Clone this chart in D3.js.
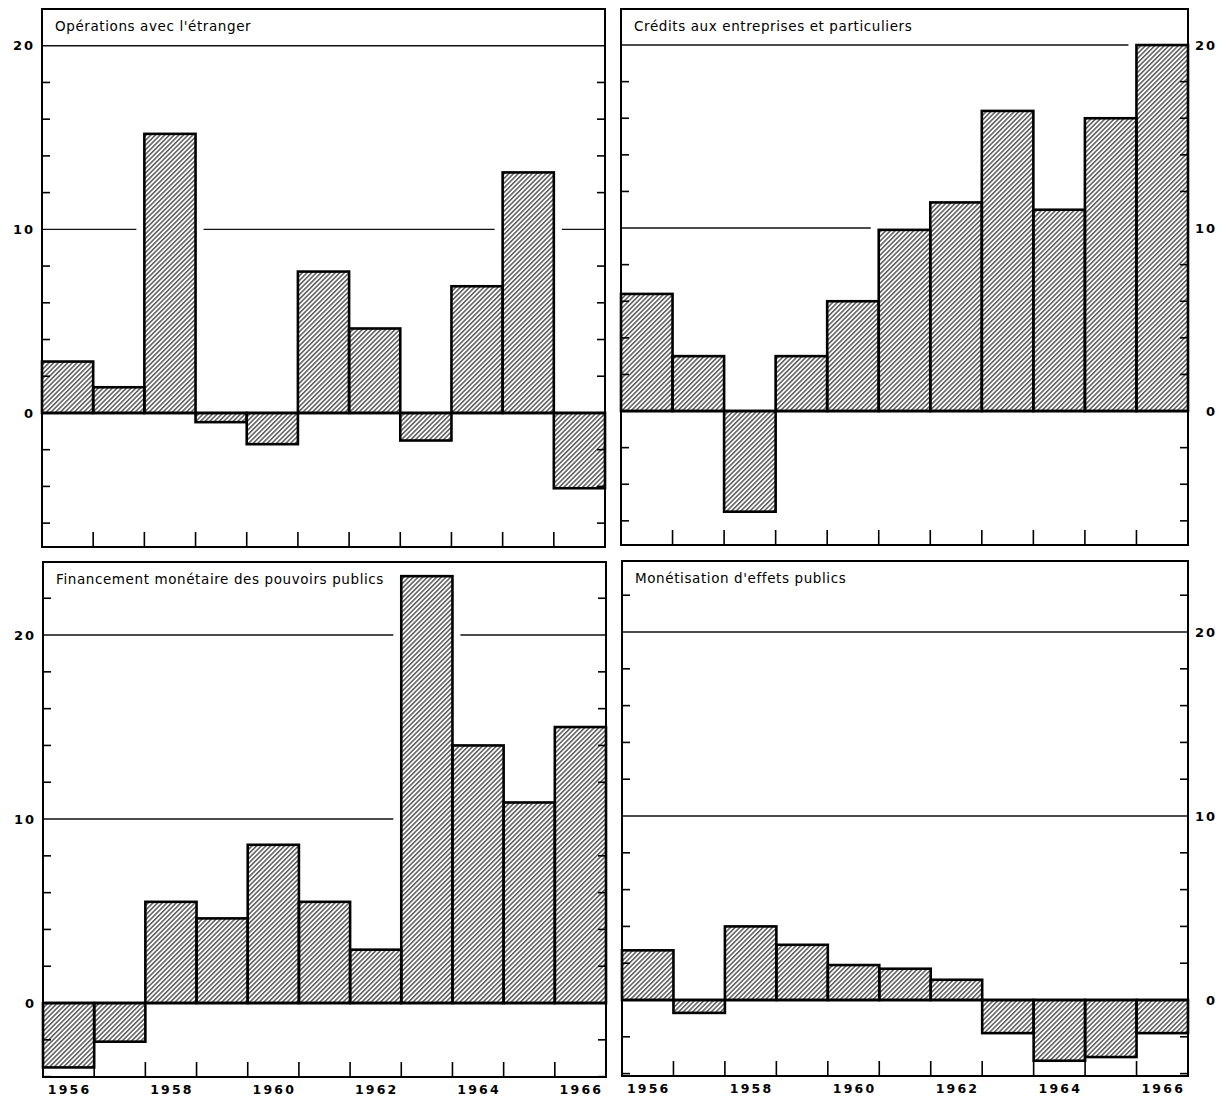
<!DOCTYPE html>
<html>
<head>
<meta charset="utf-8">
<script src="https://cdn.jsdelivr.net/npm/d3@7"></script>
<style>
  html, body { margin: 0; padding: 0; background: #fff; }
  svg { display: block; }
</style>
</head>
<body>
<svg id="chart" width="1230" height="1098"></svg>
<script>
// ---------- data ----------
const years = [1956, 1957, 1958, 1959, 1960, 1961, 1962, 1963, 1964, 1965, 1966];
const yearLabels = ["1956", "1958", "1960", "1962", "1964", "1966"];
const operations   = [2.8, 1.4, 15.2, -0.5, -1.7, 7.7, 4.6, -1.5, 6.9, 13.1, -4.1];
const credits      = [6.4, 3.0, -5.5, 3.0, 6.0, 9.9, 11.4, 16.4, 11.0, 16.0, 20.0];
const monetaire    = [-3.5, -2.1, 5.5, 4.6, 8.6, 5.5, 2.9, 23.2, 14.0, 10.9, 15.0];
const monetisation = [2.7, -0.7, 4.0, 3.0, 1.9, 1.7, 1.1, -1.8, -3.3, -3.1, -1.8];
const titles = [
  "Opérations avec l'étranger",
  "Crédits aux entreprises et particuliers",
  "Financement monétaire des pouvoirs publics",
  "Monétisation d'effets publics"
];
const gridValues = [10, 20];
const tickLabels = ["0", "10", "20"];

// ---------- layout ----------
const panels = [
  { title: titles[0], values: operations,   x0: 42,  x1: 605,  y0: 9,   y1: 547,  domain: [-7.3, 22.0],   side: "left",  showYears: false },
  { title: titles[1], values: credits,      x0: 621, x1: 1188, y0: 9,   y1: 545,  domain: [-7.32, 21.97], side: "right", showYears: false },
  { title: titles[2], values: monetaire,    x0: 43,  x1: 606,  y0: 562, y1: 1077, domain: [-4.02, 23.97], side: "left",  showYears: true },
  { title: titles[3], values: monetisation, x0: 622, x1: 1188, y0: 561, y1: 1076, domain: [-4.13, 23.86], side: "right", showYears: true }
];

const svg = d3.select("#chart");
const defs = svg.append("defs");
defs.append("pattern")
  .attr("id", "hatch")
  .attr("patternUnits", "userSpaceOnUse")
  .attr("width", 3.3).attr("height", 3.3)
  .attr("patternTransform", "rotate(45)")
  .append("line")
  .attr("x1", 0.8).attr("y1", 0).attr("x2", 0.8).attr("y2", 3.3)
  .attr("stroke", "#111").attr("stroke-width", 1.05);

const numFont = "'DejaVu Sans', sans-serif";
const titleFont = "'DejaVu Sans', sans-serif";

panels.forEach(p => {
  const g = svg.append("g");
  const x = d3.scaleBand().domain(years).range([p.x0, p.x1]).padding(0);
  const y = d3.scaleLinear().domain(p.domain).range([p.y1, p.y0]);

  // grid lines
  g.selectAll("line.grid").data(gridValues).join("line")
    .attr("x1", p.x0).attr("x2", p.x1)
    .attr("y1", d => y(d)).attr("y2", d => y(d))
    .attr("stroke", "#111").attr("stroke-width", 1.4);

  // white gaps around bars that cross grid lines
  const pad = 8;
  g.selectAll("rect.pad").data(p.values).join("rect")
    .attr("x", (d, i) => x(years[i]) - pad)
    .attr("width", x.bandwidth() + 2 * pad)
    .attr("y", d => d > 0 ? y(d) - 3 : y(0))
    .attr("height", d => Math.abs(y(d) - y(0)) + 3)
    .attr("fill", "#fff");

  // bars
  g.selectAll("rect.bar").data(p.values).join("rect")
    .attr("x", (d, i) => x(years[i]))
    .attr("width", x.bandwidth())
    .attr("y", d => Math.min(y(d), y(0)))
    .attr("height", d => Math.abs(y(d) - y(0)))
    .attr("fill", "url(#hatch)")
    .attr("stroke", "#000").attr("stroke-width", 2.6);

  // zero line
  g.append("line")
    .attr("x1", p.x0).attr("x2", p.x1)
    .attr("y1", y(0)).attr("y2", y(0))
    .attr("stroke", "#000").attr("stroke-width", 2.6);

  // side ticks (every 2 units, inward, both sides)
  const sideTicks = d3.range(Math.ceil(p.domain[0] / 2) * 2, p.domain[1], 2)
    .filter(v => v % 10 !== 0);
  [p.x0, p.x1].forEach((xe, k) => {
    g.selectAll(null).data(sideTicks).join("line")
      .attr("x1", xe).attr("x2", k === 0 ? xe + 8 : xe - 8)
      .attr("y1", d => y(d)).attr("y2", d => y(d))
      .attr("stroke", "#000").attr("stroke-width", 1.6);
  });

  // bottom ticks at year boundaries
  const bounds = years.slice(1).map(yr => x(yr));
  g.selectAll(null).data(bounds).join("line")
    .attr("x1", d => d).attr("x2", d => d)
    .attr("y1", p.y1).attr("y2", p.y1 - 15)
    .attr("stroke", "#000").attr("stroke-width", 1.6);

  // frame
  g.append("rect")
    .attr("x", p.x0).attr("y", p.y0)
    .attr("width", p.x1 - p.x0).attr("height", p.y1 - p.y0)
    .attr("fill", "none").attr("stroke", "#000").attr("stroke-width", 2);

  // title
  g.append("text")
    .attr("x", p.x0 + 13).attr("y", p.y0 + 22)
    .attr("font-family", titleFont).attr("font-size", 13.5)
    .attr("letter-spacing", 0.6)
    .attr("fill", "#000")
    .text(p.title);

  // value labels
  g.selectAll(null).data(tickLabels).join("text")
    .attr("x", p.side === "left" ? p.x0 - 7 : p.x1 + 29)
    .attr("y", d => y(+d))
    .attr("dy", "0.36em")
    .attr("text-anchor", "end")
    .attr("font-family", numFont).attr("font-weight", "bold")
    .attr("font-size", 13).attr("letter-spacing", 2)
    .attr("fill", "#000")
    .text(d => d);

  // year labels
  if (p.showYears) {
    g.selectAll(null).data(yearLabels).join("text")
      .attr("x", d => x(+d) + x.bandwidth() / 2 + 1)
      .attr("y", p.y1 + 12)
      .attr("dy", "0.36em")
      .attr("text-anchor", "middle")
      .attr("font-family", numFont).attr("font-weight", "bold")
      .attr("font-size", 12.5).attr("letter-spacing", 2.2)
      .attr("fill", "#000")
      .text(d => d);
  }
});
</script>
</body>
</html>
